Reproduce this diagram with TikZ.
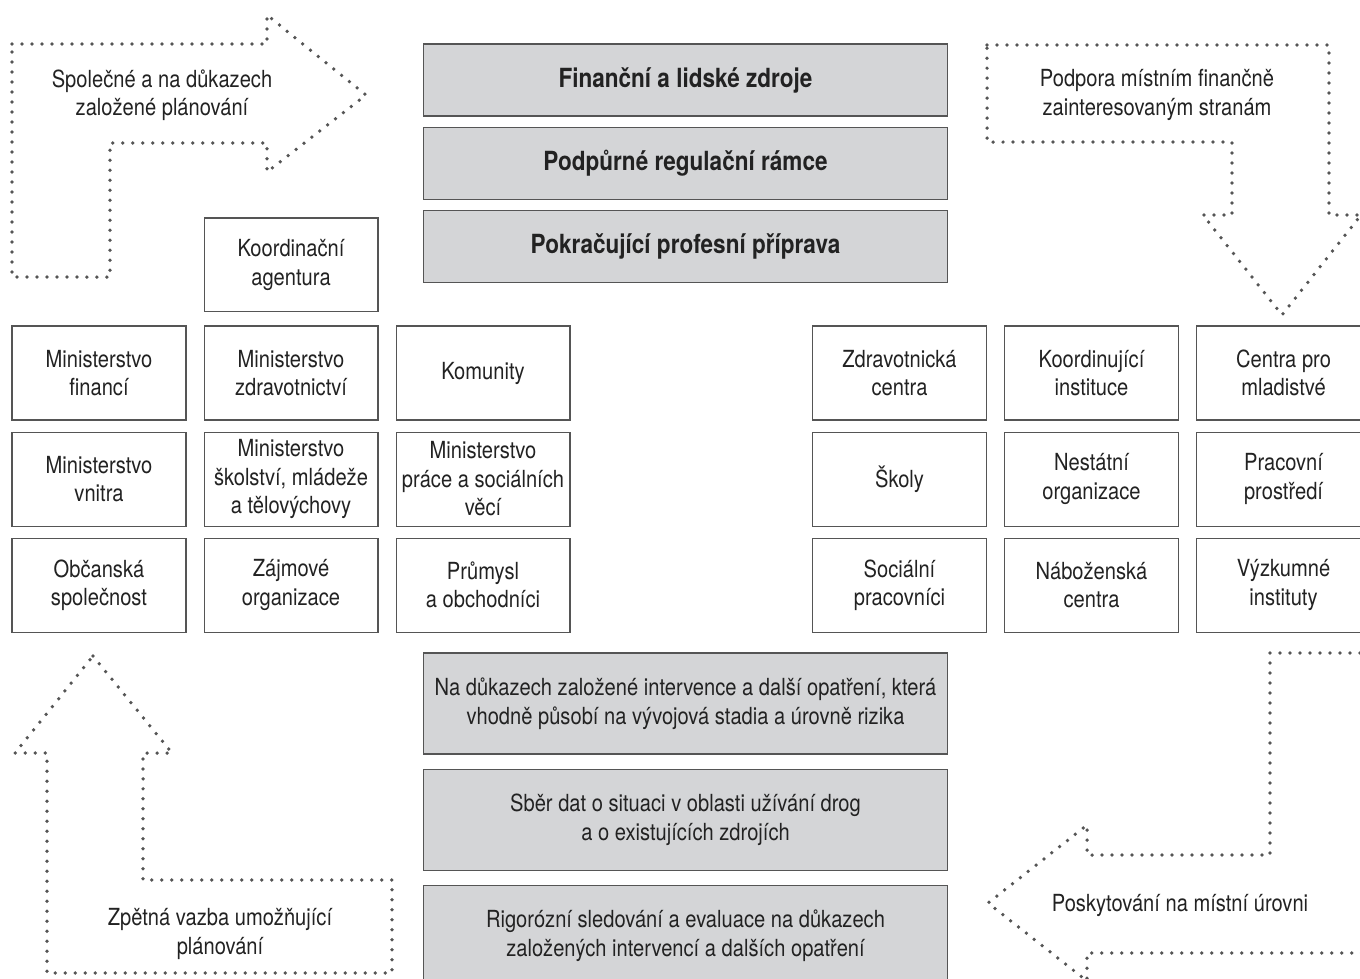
\documentclass[tikz,border=0pt]{standalone}
\usepackage{fontspec}
\setmainfont{TeX Gyre Heros}[FakeStretch=0.855]
\usetikzlibrary{positioning}
\definecolor{boxgrey}{HTML}{D4D5D7}
\definecolor{linegrey}{HTML}{555555}
\definecolor{textgrey}{HTML}{222222}

\begin{document}
\begin{tikzpicture}[x=0.02cm,y=-0.02cm,node distance=0.22cm and 0.34cm,
    every node/.style={text=textgrey,font=\fontsize{13.4}{16.2}\selectfont,align=center},
    org box/.style={draw=linegrey,line width=0.6pt,fill=white,minimum width=3.48cm,minimum height=1.88cm,inner sep=1pt},
    key box/.style={draw=linegrey,line width=0.6pt,fill=boxgrey,minimum width=10.5cm,minimum height=1.44cm},
    step box/.style={key box,minimum height=2.02cm},
    flow/.style={draw=linegrey,line width=0.75mm,line cap=round,line join=round,dash pattern=on 0pt off 2mm}]
    \useasboundingbox (0,0) rectangle (1360,978);
    \clip (0,0) rectangle (1360,978);

    % dotted arrows
    \path[flow] (12,44) -- (267,44) -- (267,15) -- (366,95) -- (267,172) -- (267,143)
        -- (110,143) -- (110,277) -- (12,277) -- cycle;
    \path[flow] (987,45) -- (1329,45) -- (1329,215) -- (1361,215) -- (1282,315) -- (1203,215)
        -- (1232,215) -- (1232,142) -- (987,142) -- cycle;
    \path[flow] (93,656) -- (172,753) -- (143,753) -- (143,880) -- (392,880) -- (392,973)
        -- (47,973) -- (47,753) -- (15,753) -- cycle;
    \path[flow] (1400,653) -- (1270,653) -- (1270,855) -- (1087,855) -- (1087,825) -- (988,903)
        -- (1087,981) -- (1087,953) -- (1400,953);

    \node (plan) at (162,95) {Společné a na důkazech\\založené plánování};
    \node (support) at (1157,95) {Podpora místním finančně\\zainteresovaným stranám};
    \node (feedback) at (220,934) {Zpětná vazba umožňující\\plánování};
    \node (delivery) at (1180,905) {Poskytování na místní úrovni};

    % frame conditions
    \node[key box,font=\fontsize{15}{18}\selectfont\bfseries] (funds) at (685.5,80) {Finanční a lidské zdroje};
    \node[key box,font=\fontsize{15}{18}\selectfont\bfseries] (rules) [below=0.2cm of funds] {Podpůrné regulační rámce};
    \node[key box,font=\fontsize{15}{18}\selectfont\bfseries] (training) [below=0.2cm of rules] {Pokračující profesní příprava};

    % national level
    \node[org box] (mf) at (99,373) {Ministerstvo\\financí};
    \node[org box] (mz) [right=of mf] {Ministerstvo\\zdravotnictví};
    \node[org box] (kom) [right=of mz] {Komunity};
    \node[org box] (mv) [below=of mf] {Ministerstvo\\vnitra};
    \node[org box] (msmt) [below=of mz] {Ministerstvo\\školství, mládeže\\a tělovýchovy};
    \node[org box] (mpsv) [below=of kom] {Ministerstvo\\práce a sociálních\\věcí};
    \node[org box] (obc) [below=of mv] {Občanská\\společnost};
    \node[org box] (zaj) [below=of msmt] {Zájmové\\organizace};
    \node[org box] (prum) [below=of mpsv] {Průmysl\\a obchodníci};
    \node[org box] (agent) [above=0.26cm of mz] {Koordinační\\agentura};

    % local level
    \node[org box] (zc) at (899.5,373) {Zdravotnická\\centra};
    \node[org box] (ki) [right=of zc] {Koordinující\\instituce};
    \node[org box] (cm) [right=of ki] {Centra pro\\mladistvé};
    \node[org box] (sk) [below=of zc] {Školy};
    \node[org box] (no) [below=of ki] {Nestátní\\organizace};
    \node[org box] (pp) [below=of cm] {Pracovní\\prostředí};
    \node[org box] (sp) [below=of sk] {Sociální\\pracovníci};
    \node[org box] (nc) [below=of no] {Náboženská\\centra};
    \node[org box] (vi) [below=of pp] {Výzkumné\\instituty};

    % evidence base
    \node[step box] (interv) at (685.5,703.5) {Na důkazech založené intervence a další opatření, která\\vhodně působí na vývojová stadia a úrovně rizika};
    \node[step box] (data) [below=0.28cm of interv] {Sběr dat o situaci v oblasti užívání drog\\a o existujících zdrojích};
    \node[step box] (eval) [below=0.28cm of data] {Rigorózní sledování a evaluace na důkazech\\založených intervencí a dalších opatření};
\end{tikzpicture}
\end{document}
